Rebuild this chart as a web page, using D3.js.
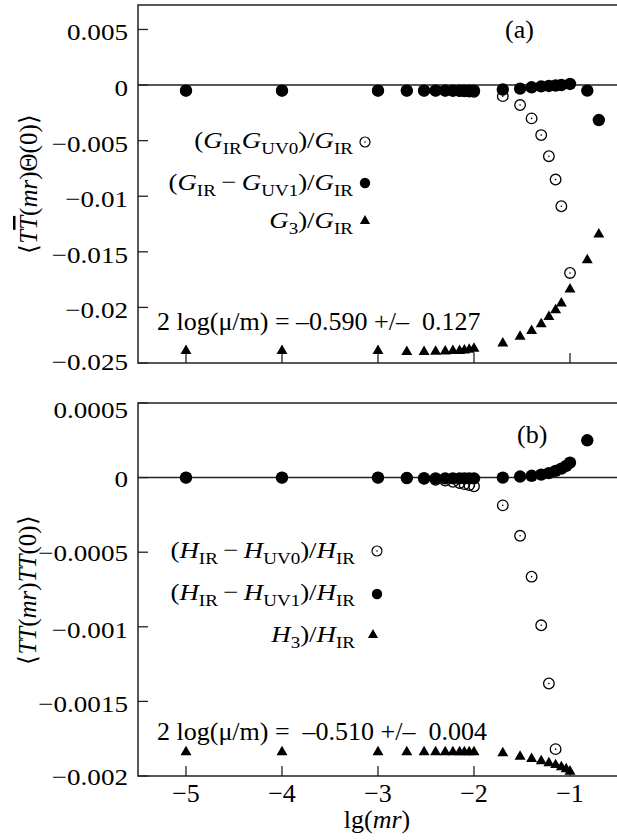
<!DOCTYPE html>
<html><head><meta charset="utf-8">
<script src="https://cdn.jsdelivr.net/npm/d3@7"></script>
<style>
body{margin:0;background:#fff}
svg{display:block}
text{font-family:"Liberation Serif","Times New Roman",serif;fill:#000}
</style>
</head><body><svg id="c" width="617" height="840"></svg>
<script>
// ---------- data ----------
const xTicks = [-5, -4, -3, -2, -1];
const xTickLabels = ["\u22125", "\u22124", "\u22123", "\u22122", "\u22121"];
const aYTicks = [0.005, 0, -0.005, -0.01, -0.015, -0.02, -0.025];
const aYTickLabels = ["0.005", "0", "\u22120.005", "\u22120.01", "\u22120.015", "\u22120.02", "\u22120.025"];
const bYTicks = [0.0005, 0, -0.0005, -0.001, -0.0015, -0.002];
const bYTickLabels = ["0.0005", "0", "\u22120.0005", "\u22120.001", "\u22120.0015", "\u22120.002"];

// panel (a)
const aOpenX = [-5, -4, -3, -2.70, -2.52, -2.40, -2.30, -2.22, -2.15, -2.10, -2.05, -2.00, -1.70, -1.52, -1.40, -1.30, -1.22, -1.15, -1.09, -1.00];
const aOpenY = [-0.0005, -0.0005, -0.0005, -0.0005, -0.0005, -0.0005, -0.0005, -0.00052, -0.00054, -0.00056, -0.00058, -0.0006, -0.0010, -0.0018, -0.0030, -0.0045, -0.0064, -0.0085, -0.0109, -0.0169];
const aFillX = [-5, -4, -3, -2.70, -2.52, -2.40, -2.30, -2.22, -2.15, -2.10, -2.05, -2.00, -1.70, -1.52, -1.40, -1.30, -1.22, -1.15, -1.09, -1.00, -0.82, -0.70];
const aFillY = [-0.0005, -0.0005, -0.0005, -0.0005, -0.0005, -0.0005, -0.0005, -0.0005, -0.0005, -0.0005, -0.0005, -0.0005, -0.0004, -0.00032, -0.0002, -0.00012, -0.00008, -0.00004, 0.0, 0.0001, -0.0005, -0.00315];
const aTriX = [-5, -4, -3, -2.70, -2.52, -2.40, -2.30, -2.22, -2.15, -2.10, -2.05, -2.00, -1.70, -1.52, -1.40, -1.30, -1.22, -1.15, -1.09, -1.00, -0.82, -0.70];
const aTriY = [-0.0239, -0.0239, -0.0239, -0.0240, -0.0240, -0.02398, -0.02395, -0.0239, -0.0239, -0.02385, -0.0238, -0.0237, -0.02323, -0.02263, -0.0221, -0.0215, -0.02084, -0.02023, -0.01963, -0.01837, -0.01574, -0.01343];

// panel (b)
const bOpenX = [-5, -4, -3, -2.70, -2.52, -2.40, -2.30, -2.22, -2.15, -2.10, -2.05, -2.00, -1.70, -1.52, -1.40, -1.30, -1.22, -1.15];
const bOpenY = [0, 0, 0, -0.000003, -0.000008, -0.000014, -0.00002, -0.000028, -0.000036, -0.000044, -0.00005, -0.000058, -0.000186, -0.00039, -0.000664, -0.00099, -0.00138, -0.00182];
const bFillX = [-5, -4, -3, -2.70, -2.52, -2.40, -2.30, -2.22, -2.15, -2.10, -2.05, -2.00, -1.70, -1.52, -1.40, -1.30, -1.22, -1.15, -1.09, -1.04, -1.00, -0.82];
const bFillY = [0, 0, 0, -0.000003, -0.000004, -0.000005, -0.000005, -0.000005, -0.000005, -0.000005, -0.000005, -0.000005, 0.0, 0.000007, 0.000012, 0.00002, 0.00003, 0.000045, 0.00006, 0.000078, 0.0001, 0.00025];
const bTriX = [-5, -4, -3, -2.70, -2.52, -2.40, -2.30, -2.22, -2.15, -2.10, -2.05, -2.00, -1.70, -1.52, -1.40, -1.30, -1.22, -1.15, -1.09, -1.04, -1.00];
const bTriY = [-0.00184, -0.00184, -0.00184, -0.00184, -0.00184, -0.00184, -0.00184, -0.00184, -0.00184, -0.00184, -0.00184, -0.00184, -0.001847, -0.00187, -0.001885, -0.0019, -0.001914, -0.001926, -0.00194, -0.001954, -0.00197];

// ---------- drawing ----------
const FONT = "'Liberation Serif','Times New Roman',serif";
const svg = d3.select("#c");
const x = d3.scaleLinear().domain([-5.5, -0.5]).range([138, 618]);
const X0 = 138, X1 = 618;

function stext(parent, px, py, anchor, size, sx) {
  return parent.append("g").attr("transform", `translate(${px},${py}) scale(${sx},1)`)
    .append("text").attr("text-anchor", anchor).attr("font-size", size).attr("font-family", FONT);
}

function rich(textSel, segs, subSize, shift) {
  segs.forEach(s => {
    const t = textSel.append("tspan").text(s.t);
    if (s.i) t.attr("font-style", "italic");
    if (s.o) t.style("text-decoration", "overline");
    if (s.sub) { t.attr("font-size", subSize).attr("dy", shift); }
    if (s.back) t.attr("dy", -shift);
  });
}

function markers(g, y, xs, ys, type) {
  const pts = xs.map((v, i) => [x(v), y(ys[i])]);
  if (type === "open") {
    g.selectAll(null).data(pts).enter().append("circle")
      .attr("cx", d => d[0]).attr("cy", d => d[1]).attr("r", 5.3)
      .attr("fill", "none").attr("stroke", "#000").attr("stroke-width", 1.3);
    g.selectAll(null).data(pts).enter().append("circle")
      .attr("cx", d => d[0]).attr("cy", d => d[1]).attr("r", 0.8).attr("fill", "#000");
  } else if (type === "fill") {
    g.selectAll(null).data(pts).enter().append("circle")
      .attr("cx", d => d[0]).attr("cy", d => d[1]).attr("r", 6.2).attr("fill", "#000");
  } else {
    const sym = d3.symbol().type(d3.symbolTriangle).size(52);
    g.selectAll(null).data(pts).enter().append("path")
      .attr("d", sym).attr("transform", d => `translate(${d[0]},${d[1]})`).attr("fill", "#000");
  }
}

function legendMarker(g, px, py, type) {
  if (type === "open") {
    g.append("circle").attr("cx", px).attr("cy", py).attr("r", 5).attr("fill", "none").attr("stroke", "#000").attr("stroke-width", 1.2);
    g.append("circle").attr("cx", px).attr("cy", py).attr("r", 0.8).attr("fill", "#000");
  } else if (type === "fill") {
    g.append("circle").attr("cx", px).attr("cy", py).attr("r", 5.2).attr("fill", "#000");
  } else {
    g.append("path").attr("d", d3.symbol().type(d3.symbolTriangle).size(45)())
      .attr("transform", `translate(${px},${py})`).attr("fill", "#000");
  }
}

function panel(cfg) {
  const g = svg.append("g");
  const y = d3.scaleLinear().domain(cfg.domain).range([cfg.bottom, cfg.top]);
  g.append("path").attr("d", `M${X1},${cfg.top}H${X0}V${cfg.bottom}H${X1}`)
    .attr("fill", "none").attr("stroke", "#222").attr("stroke-width", 1.5);
  g.append("line").attr("x1", X0).attr("x2", X1).attr("y1", y(0)).attr("y2", y(0))
    .attr("stroke", "#222").attr("stroke-width", 1.5);
  cfg.yTicks.forEach((v, i) => {
    g.append("line").attr("x1", X0).attr("x2", X0 + 10).attr("y1", y(v)).attr("y2", y(v))
      .attr("stroke", "#222").attr("stroke-width", 1.3);
    stext(g, 128, y(v) + cfg.labDy[i], "end", 24, 1.13).text(cfg.yLabels[i]);
  });
  xTicks.forEach(v => {
    g.append("line").attr("x1", x(v)).attr("x2", x(v)).attr("y1", cfg.bottom).attr("y2", cfg.bottom - 10)
      .attr("stroke", "#222").attr("stroke-width", 1.3);
  });
  markers(g, y, cfg.openX, cfg.openY, "open");
  markers(g, y, cfg.fillX, cfg.fillY, "fill");
  markers(g, y, cfg.triX, cfg.triY, "tri");
  return {g, y};
}

panel({domain: [-0.025, 0.0072], top: 5, bottom: 363,
  yTicks: aYTicks, yLabels: aYTickLabels, labDy: [11, 11, 11, 11, 11, 11, 7],
  openX: aOpenX, openY: aOpenY, fillX: aFillX, fillY: aFillY, triX: aTriX, triY: aTriY});
panel({domain: [-0.002, 0.0005], top: 403, bottom: 776,
  yTicks: bYTicks, yLabels: bYTickLabels, labDy: [15, 9, 9, 11, 11, 9],
  openX: bOpenX, openY: bOpenY, fillX: bFillX, fillY: bFillY, triX: bTriX, triY: bTriY});

xTicks.forEach((v, i) => {
  svg.append("text").attr("x", x(v)).attr("y", 802).attr("text-anchor", "middle")
    .attr("font-family", FONT).attr("font-size", 26).text(xTickLabels[i]);
});
const xt = svg.append("text").attr("x", 377).attr("y", 828).attr("text-anchor", "middle")
  .attr("font-family", FONT).attr("font-size", 26);
rich(xt, [{t: "lg("}, {t: "mr", i: true}, {t: ")"}], 18, 0);

const ya = svg.append("text").attr("transform", "translate(37,184) rotate(-90)").attr("text-anchor", "middle")
  .attr("font-family", FONT).attr("font-size", 25);
rich(ya, [{t: "\u27E8"}, {t: "T", i: true}, {t: "T", i: true, o: true}, {t: "("}, {t: "mr", i: true}, {t: ")\u0398(0)\u27E9"}], 18, 0);
const yb = svg.append("text").attr("transform", "translate(36,590) rotate(-90)").attr("text-anchor", "middle")
  .attr("font-family", FONT).attr("font-size", 25);
rich(yb, [{t: "\u27E8"}, {t: "TT", i: true}, {t: "("}, {t: "mr", i: true}, {t: ")"}, {t: "TT", i: true}, {t: "(0)\u27E9"}], 18, 0);

svg.append("text").attr("x", 505).attr("y", 38).attr("font-family", FONT).attr("font-size", 26).text("(a)");
svg.append("text").attr("x", 517).attr("y", 443).attr("font-family", FONT).attr("font-size", 26).text("(b)");

const SUB = 17, SH = 6;
function legendRow(px, py, segs, mx, my, type) {
  const t = stext(svg, px, py, "end", 24, 1.12);
  rich(t, segs, SUB, SH);
  legendMarker(svg, mx, my, type);
}
const thin = "\u2009\u2212\u2009";
legendRow(353, 148, [{t: "("}, {t: "G", i: true}, {t: "IR", sub: true}, {t: "G", i: true, back: true}, {t: "UV0", sub: true}, {t: ")/", back: true}, {t: "G", i: true}, {t: "IR", sub: true}], 365, 142, "open");
legendRow(353, 190, [{t: "("}, {t: "G", i: true}, {t: "IR", sub: true}, {t: thin, back: true}, {t: "G", i: true}, {t: "UV1", sub: true}, {t: ")/", back: true}, {t: "G", i: true}, {t: "IR", sub: true}], 365, 183, "fill");
legendRow(353, 228, [{t: "G", i: true}, {t: "3", sub: true}, {t: ")/", back: true}, {t: "G", i: true}, {t: "IR", sub: true}], 365, 221, "tri");

legendRow(355, 558, [{t: "("}, {t: "H", i: true}, {t: "IR", sub: true}, {t: thin, back: true}, {t: "H", i: true}, {t: "UV0", sub: true}, {t: ")/", back: true}, {t: "H", i: true}, {t: "IR", sub: true}], 377, 551, "open");
legendRow(355, 600, [{t: "("}, {t: "H", i: true}, {t: "IR", sub: true}, {t: thin, back: true}, {t: "H", i: true}, {t: "UV1", sub: true}, {t: ")/", back: true}, {t: "H", i: true}, {t: "IR", sub: true}], 377, 594, "fill");
legendRow(355, 642, [{t: "H", i: true}, {t: "3", sub: true}, {t: ")/", back: true}, {t: "H", i: true}, {t: "IR", sub: true}], 373, 635, "tri");

svg.append("text").attr("x", 157).attr("y", 330).attr("font-family", FONT).attr("font-size", 26)
  .style("white-space", "pre").text("2 log(\u03BC/m) = \u20130.590 +/\u2013  0.127");
svg.append("text").attr("x", 157).attr("y", 740).attr("font-family", FONT).attr("font-size", 26)
  .style("white-space", "pre").text("2 log(\u03BC/m) =  \u20130.510 +/\u2013  0.004");
</script>
</body></html>
